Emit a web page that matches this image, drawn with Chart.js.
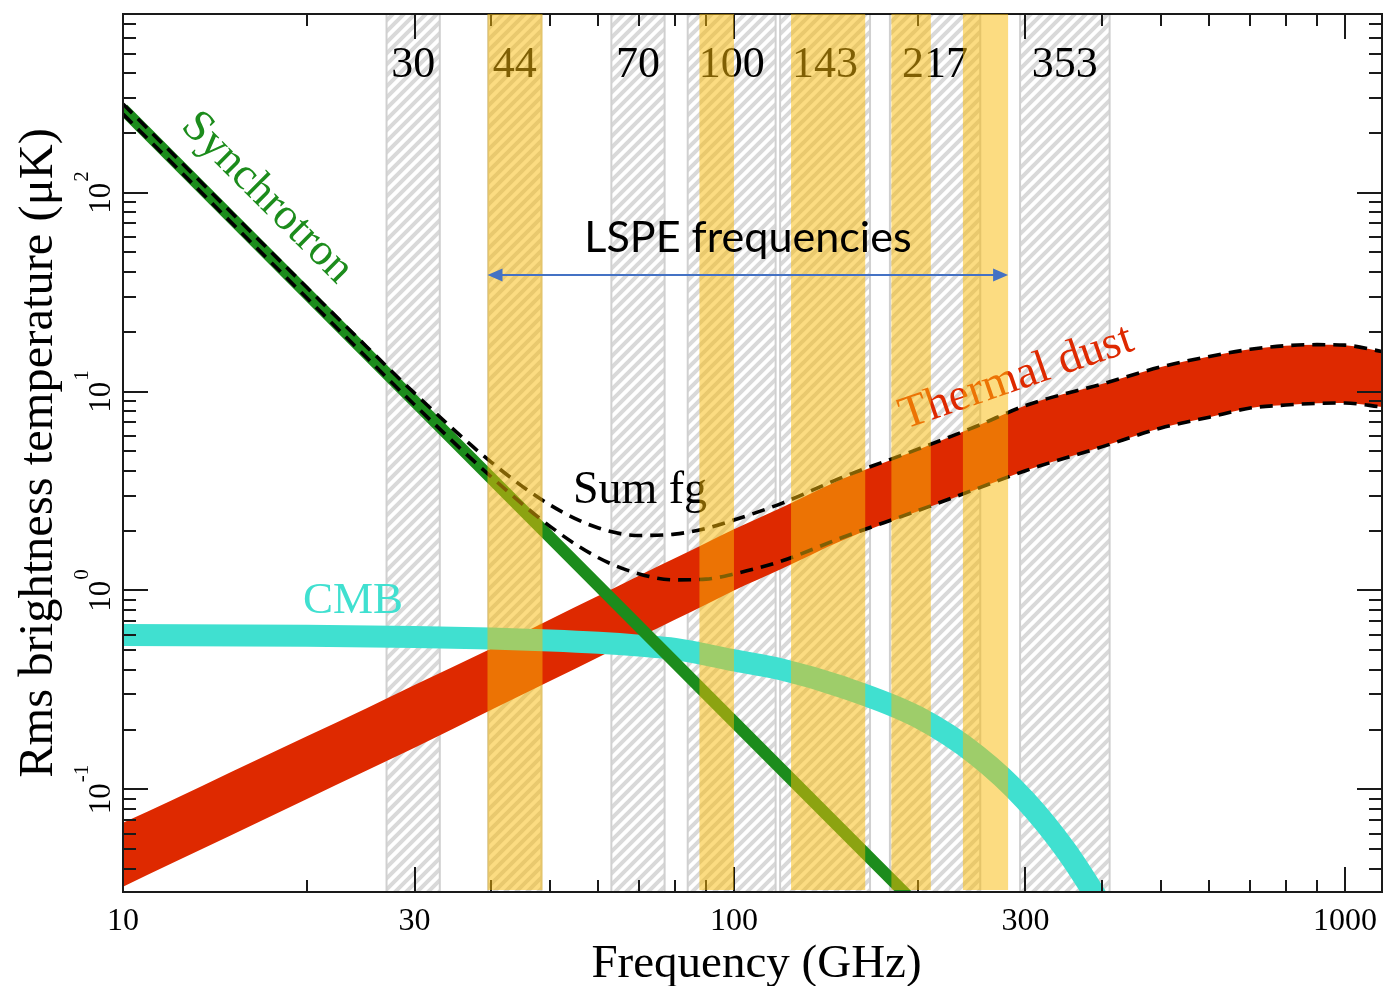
<!DOCTYPE html>
<html>
<head>
<meta charset="utf-8">
<script src="https://cdn.jsdelivr.net/npm/chart.js@4.4.1/dist/chart.umd.min.js"></script>
<style>
    html, body { margin: 0; padding: 0; background: #fff; }
</style>
</head>
<body>
<canvas id="chSpectra" width="1385" height="986"></canvas>
<script>
// values (GHz, uK rms)
var freqs = [10, 12, 15, 20, 25, 30, 40, 50, 60, 70, 80, 90, 100, 120, 150, 200, 250, 300, 400, 500, 600, 700, 800, 900, 1000, 1150];
var dustUpper = [0.068, 0.088, 0.122, 0.185, 0.255, 0.335, 0.51, 0.715, 0.94, 1.19, 1.45, 1.73, 2.03, 2.62, 3.62, 5.1, 6.7, 8.5, 10.9, 13.3, 15.0, 16.3, 17.0, 17.2, 17.1, 15.9];
var dustLower = [0.0324, 0.0424, 0.0587, 0.0895, 0.124, 0.162, 0.251, 0.351, 0.462, 0.583, 0.713, 0.851, 1.0, 1.29, 1.78, 2.5, 3.24, 4.0, 5.27, 6.56, 7.43, 8.26, 8.55, 8.72, 8.75, 8.36];
var sumUpper = [279, 159, 80.1, 33.3, 16.9, 9.81, 4.43, 2.69, 2.06, 1.89, 1.92, 2.05, 2.26, 2.75, 3.69, 5.13, 6.71, 8.5, 10.9, 13.3, 15.0, 16.3, 17.0, 17.2, 17.1, 15.9];
var sumLower = [248, 142, 71.3, 29.5, 14.9, 8.58, 3.74, 2.1, 1.46, 1.21, 1.13, 1.14, 1.21, 1.41, 1.84, 2.52, 3.25, 4.0, 5.27, 6.56, 7.43, 8.26, 8.55, 8.72, 8.75, 8.36];

var syncFreqs = [10, 20, 30, 50, 100, 200];
var syncValues = [263, 31.1, 8.93, 1.85, 0.219, 0.0259];

var cmbFreqs = [10, 20, 30, 40, 50, 60, 70, 80, 100, 120, 150, 200, 250, 300, 350, 400, 450];
var cmbValues = [0.597, 0.592, 0.584, 0.574, 0.561, 0.546, 0.528, 0.508, 0.445, 0.4, 0.328, 0.231, 0.148, 0.088, 0.049, 0.026, 0.014];

// Planck bands (hatched) and LSPE bands (yellow), GHz
var planckBands = [[27, 33], [39.6, 48.4], [63, 77], [84, 117], [119, 167], [180, 253], [294, 412]];
var planckLabels = ['30', '44', '70', '100', '143', '217', '353'];
var lspeBands = [[39.5, 48.6], [87.8, 100], [124, 164], [181, 210], [237, 281]];

// axis ticks
var xTickLabels = [10, 30, 100, 300, 1000];
var xMinorTicks = [20, 40, 50, 60, 70, 80, 90, 200, 400, 500, 600, 700, 800, 900];
var yTickPowers = [-1, 0, 1, 2];

var serif = '"Liberation Serif", "Times New Roman", serif';
var green = '#1c8c1c', red = '#de2900', cyan = '#40e0d0';

function pts(xs, ys) {
    return xs.map(function(x, i) { return { x: x, y: ys[i] }; });
}

function makeHatch(ctx) {
    var s = 11;
    var c = document.createElement('canvas');
    c.width = s; c.height = s;
    var g = c.getContext('2d');
    g.fillStyle = '#ffffff';
    g.fillRect(0, 0, s, s);
    g.strokeStyle = '#d9d9d9';
    g.lineWidth = 4;
    g.beginPath();
    g.moveTo(0, s); g.lineTo(s, 0);
    g.moveTo(-s / 2, s / 2); g.lineTo(s / 2, -s / 2);
    g.moveTo(s / 2, s * 1.5); g.lineTo(s * 1.5, s / 2);
    g.stroke();
    return ctx.createPattern(c, 'repeat');
}

function text(ctx, str, x, y, font, color, align, base, angle) {
    ctx.save();
    ctx.translate(x, y);
    if (angle) ctx.rotate(angle * Math.PI / 180);
    ctx.font = font;
    ctx.fillStyle = color;
    ctx.textAlign = align || 'center';
    ctx.textBaseline = base || 'alphabetic';
    ctx.fillText(str, 0, 0);
    ctx.restore();
}

var bandsPlugin = {
    id: 'bands',
    beforeDatasetsDraw: function(chart) {
        var ctx = chart.ctx, a = chart.chartArea, xs = chart.scales.x;
        var hatch = makeHatch(ctx);
        ctx.save();
        ctx.beginPath();
        ctx.rect(a.left, a.top, a.right - a.left, a.bottom - a.top);
        ctx.clip();
        planckBands.forEach(function(b) {
            var x0 = xs.getPixelForValue(b[0]), x1 = xs.getPixelForValue(b[1]);
            ctx.fillStyle = hatch;
            ctx.fillRect(x0, a.top, x1 - x0, a.bottom - a.top);
            ctx.strokeStyle = '#d0d0d0';
            ctx.lineWidth = 2;
            ctx.beginPath();
            ctx.moveTo(x0, a.top); ctx.lineTo(x0, a.bottom);
            ctx.moveTo(x1, a.top); ctx.lineTo(x1, a.bottom);
            ctx.stroke();
        });
        ctx.restore();
    },
    afterDatasetsDraw: function(chart) {
        var ctx = chart.ctx, a = chart.chartArea, xs = chart.scales.x, ys = chart.scales.y;

        // frame and inward ticks on all four sides
        ctx.save();
        ctx.strokeStyle = '#1a1a1a';
        ctx.lineWidth = 2;
        ctx.beginPath();
        function xTick(v, len) {
            var px = Math.round(xs.getPixelForValue(v));
            ctx.moveTo(px, a.bottom); ctx.lineTo(px, a.bottom - len);
            ctx.moveTo(px, a.top); ctx.lineTo(px, a.top + len);
        }
        function yTick(v, len) {
            var py = Math.round(ys.getPixelForValue(v));
            ctx.moveTo(a.left, py); ctx.lineTo(a.left + len, py);
            ctx.moveTo(a.right, py); ctx.lineTo(a.right - len, py);
        }
        xTickLabels.forEach(function(v) { xTick(v, 25); });
        xMinorTicks.forEach(function(v) { xTick(v, 12); });
        for (var d = -2; d <= 2; d++) {
            for (var m = 1; m <= 9; m++) {
                var v = m * Math.pow(10, d);
                if (v < ys.min || v > ys.max) continue;
                yTick(v, m === 1 ? 25 : 13);
            }
        }
        ctx.stroke();
        ctx.strokeRect(a.left, a.top, a.right - a.left, a.bottom - a.top);
        ctx.restore();

        // band labels and curve labels (under the yellow overlay)
        planckBands.forEach(function(b, i) {
            var px = xs.getPixelForValue(Math.sqrt(b[0] * b[1]));
            text(ctx, planckLabels[i], px, ys.getPixelForValue(381), '44px ' + serif, '#000');
        });
        text(ctx, 'Synchrotron', xs.getPixelForValue(17.2), ys.getPixelForValue(94), '45px ' + serif, green, 'center', 'middle', 45);
        text(ctx, 'Thermal dust', xs.getPixelForValue(290), ys.getPixelForValue(11.7), '46px ' + serif, red, 'center', 'middle', -19);
        text(ctx, 'Sum fg', xs.getPixelForValue(54.5), ys.getPixelForValue(2.75), '46px ' + serif, '#000', 'left');
        text(ctx, 'CMB', xs.getPixelForValue(19.7), ys.getPixelForValue(0.77), '45px ' + serif, cyan, 'left');

        // LSPE bands on top
        ctx.save();
        ctx.fillStyle = 'rgba(249, 187, 8, 0.51)';
        lspeBands.forEach(function(b) {
            var x0 = xs.getPixelForValue(b[0]), x1 = xs.getPixelForValue(b[1]);
            ctx.fillRect(x0, a.top, x1 - x0, a.bottom - a.top - 2);
        });
        ctx.restore();

        // LSPE annotation with double arrow
        var ax0 = xs.getPixelForValue(lspeBands[0][0]);
        var ax1 = xs.getPixelForValue(lspeBands[lspeBands.length - 1][1]);
        var ay = Math.round(ys.getPixelForValue(38.5));
        ctx.save();
        ctx.strokeStyle = '#4472c4';
        ctx.fillStyle = '#4472c4';
        ctx.lineWidth = 2;
        ctx.beginPath();
        ctx.moveTo(ax0 + 10, ay); ctx.lineTo(ax1 - 10, ay);
        ctx.stroke();
        ctx.beginPath();
        ctx.moveTo(ax0, ay); ctx.lineTo(ax0 + 15, ay - 6.5); ctx.lineTo(ax0 + 15, ay + 6.5); ctx.closePath();
        ctx.moveTo(ax1, ay); ctx.lineTo(ax1 - 15, ay - 6.5); ctx.lineTo(ax1 - 15, ay + 6.5); ctx.closePath();
        ctx.fill();
        ctx.restore();
        ctx.save();
        ctx.font = '100px Lato';
        var lspeSize = 100 * 327 / ctx.measureText('LSPE frequencies').width;
        ctx.restore();
        text(ctx, 'LSPE frequencies', xs.getPixelForValue(105.4), ys.getPixelForValue(50.3), lspeSize.toFixed(1) + 'px Lato', '#000');

        // tick labels
        xTickLabels.forEach(function(v) {
            text(ctx, String(v), xs.getPixelForValue(v), a.bottom + 38, '32px ' + serif, '#000');
        });
        yTickPowers.forEach(function(p) {
            var py = ys.getPixelForValue(Math.pow(10, p));
            var sup = String(p);
            ctx.save();
            ctx.translate(a.left - 13, py);
            ctx.rotate(-Math.PI / 2);
            ctx.fillStyle = '#000';
            ctx.font = '31px ' + serif;
            var w1 = ctx.measureText('10').width;
            ctx.font = '21px ' + serif;
            var w2 = ctx.measureText(sup).width;
            var x0 = -(w1 + w2 + 1) / 2;
            ctx.font = '31px ' + serif;
            ctx.fillText('10', x0, 0);
            ctx.font = '21px ' + serif;
            ctx.fillText(sup, x0 + w1 + 1, -22);
            ctx.restore();
        });

        // axis titles
        text(ctx, 'Frequency (GHz)', (a.left + a.right) / 2 + 4, a.bottom + 85, '47px ' + serif, '#000');
        text(ctx, 'Rms brightness temperature (\u03bcK)', 52, 453, '48.5px ' + serif, '#000', 'center', 'alphabetic', -90);
    }
};

var lineBase = { pointRadius: 0, clip: 0, cubicInterpolationMode: 'monotone', borderCapStyle: 'butt' };

new Chart(document.getElementById('chSpectra'), {
    type: 'line',
    data: {
        datasets: [
            Object.assign({ data: pts(freqs, dustUpper), borderWidth: 0, borderColor: 'rgba(0,0,0,0)', backgroundColor: red, fill: '+1', order: 5 }, lineBase),
            Object.assign({ data: pts(freqs, dustLower), borderWidth: 0, borderColor: 'rgba(0,0,0,0)', fill: false, order: 6 }, lineBase),
            Object.assign({ data: pts(cmbFreqs, cmbValues), borderWidth: 22, borderColor: cyan, fill: false, order: 4 }, lineBase),
            Object.assign({}, lineBase, { data: pts(syncFreqs, syncValues), borderWidth: 12, borderColor: green, fill: false, order: 3, tension: 0, cubicInterpolationMode: 'default' }),
            Object.assign({ data: pts(freqs, sumUpper), borderWidth: 3.6, borderColor: '#000', borderDash: [13, 8], fill: false, order: 1 }, lineBase),
            Object.assign({ data: pts(freqs, sumLower), borderWidth: 3.6, borderColor: '#000', borderDash: [13, 8], fill: false, order: 2 }, lineBase)
        ]
    },
    options: {
        responsive: false,
        devicePixelRatio: 1,
        animation: false,
        events: [],
        layout: { padding: { left: 123, right: 3, top: 14, bottom: 94 } },
        scales: {
            x: { type: 'logarithmic', min: 10, max: 1150, display: false },
            y: { type: 'logarithmic', min: 0.0305, max: 790, display: false }
        },
        plugins: { legend: { display: false }, tooltip: { enabled: false } }
    },
    plugins: [bandsPlugin]
});
</script>
</body>
</html>
